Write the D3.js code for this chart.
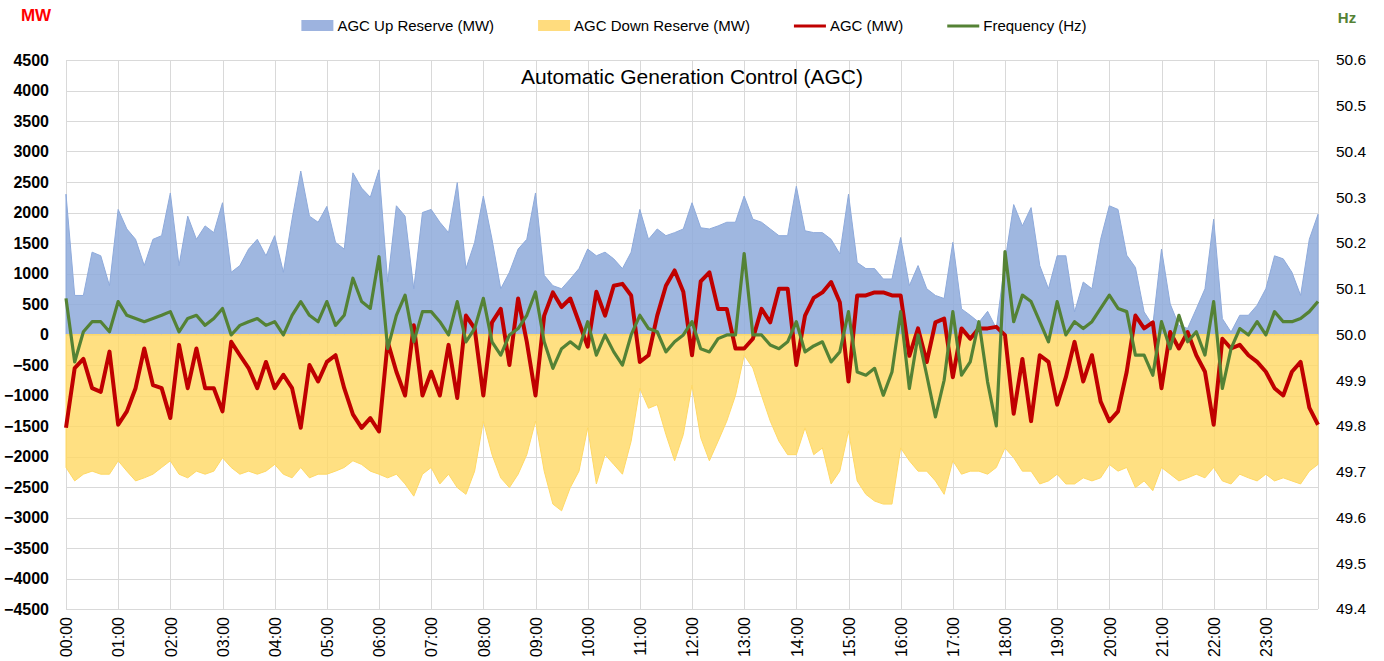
<!DOCTYPE html>
<html>
<head>
<meta charset="utf-8">
<script src="https://cdn.jsdelivr.net/npm/d3@7"></script>
<style>
  body { margin: 0; background: #fff; }
  text { font-family: "Liberation Sans", Arial, sans-serif; fill: #000; }
</style>
</head>
<body>
<div class="container"></div>
<script>
// readings every 10 minutes, 00:00 .. 24:00
var stepMin = 10;

var upReserve = [
  2300, 640, 640, 1350, 1290, 800,
  2050, 1730, 1560, 1130, 1560, 1620,
  2320, 1130, 1940, 1560, 1780, 1670,
  2160, 1020, 1130, 1400, 1560, 1290,
  1620, 1020, 1890, 2680, 1940, 1840,
  2100, 1510, 1400, 2650, 2400, 2250,
  2700, 860, 2110, 1940, 750, 2000,
  2050, 1840, 1670, 2490, 1080, 1510,
  2270, 1560, 750, 1020, 1400, 1560,
  2320, 970, 800, 750, 910, 1080,
  1400, 1290, 1350, 1240, 1080, 1350,
  2050, 1560, 1730, 1620, 1670, 1730,
  2160, 1750, 1730, 1780, 1840, 1840,
  2270, 1890, 1840, 1730, 1620, 1620,
  2430, 1700, 1670, 1670, 1560, 1320,
  2300, 1180, 1080, 1080, 910, 910,
  1590, 800, 1130, 750, 640, 590,
  1510, 420, 315, 200, 380, 100,
  1200, 2130, 1780, 2080, 1130, 750,
  1290, 1290, 370, 860, 750, 1560,
  2110, 2050, 1300, 1100, 370, 150,
  1400, 500, 150, 100, 420, 750,
  1890, 260, 40, 315, 315, 480,
  750, 1290, 1240, 1020, 640, 1560,
  1970
];

var downReserve = [
  -2180, -2400, -2290, -2240, -2290, -2290,
  -2070, -2240, -2400, -2350, -2290, -2180,
  -2070, -2290, -2350, -2240, -2290, -2240,
  -2020, -2180, -2290, -2240, -2290, -2240,
  -2130, -2290, -2350, -2180, -2350, -2290,
  -2290, -2240, -2180, -2070, -2130, -2240,
  -2290, -2350, -2290, -2450, -2650, -2290,
  -2180, -2450, -2290, -2510, -2620, -2240,
  -1420, -1970, -2350, -2510, -2290, -1970,
  -1420, -2240, -2780, -2890, -2510, -2240,
  -1530, -2450, -1970, -2130, -2290, -1750,
  -880, -1210, -1150, -1640, -2070, -1640,
  -830, -1690, -2070, -1750, -1420, -1000,
  -340, -550, -1000, -1420, -1750, -1970,
  -1970, -1530, -1970, -1860, -2450, -2240,
  -1580, -2400, -2620, -2730, -2780, -2780,
  -1860, -2070, -2240, -2240, -2400, -2620,
  -2070, -2290, -2240, -2240, -2290, -2180,
  -1860, -2020, -2240, -2240, -2450, -2400,
  -2290, -2450, -2450, -2350, -2400, -2350,
  -2130, -2240, -2180, -2510, -2400, -2560,
  -2180, -2290, -2400, -2350, -2290, -2350,
  -2180, -2400, -2450, -2290, -2350, -2400,
  -2290, -2400, -2350, -2400, -2450, -2240,
  -2130
];

var agc = [
  -1530, -550, -400, -880, -940, -280,
  -1480, -1260, -880, -230, -830, -880,
  -1370, -170, -880, -230, -880, -880,
  -1260, -120, -340, -550, -880, -450,
  -880, -660, -880, -1530, -500, -770,
  -450, -340, -880, -1310, -1530, -1370,
  -1590, -120, -610, -1000, 150, -1000,
  -610, -1000, -170, -1040, 310, 100,
  -1000, 200, 420, -500, 590, -120,
  -1000, 310, 690, 450, 590, 200,
  -200, 700, 310, 800, 830, 640,
  -450, -340, 310, 800, 1050, 700,
  -340, 870, 1020, 420, 420, -230,
  -230, -70, 420, 200, 750, 750,
  -500, 310, 600, 690, 860, 530,
  -770, 640, 640, 690, 690, 640,
  640, -350, 100, -450, 200, 260,
  -700, 100, -70, 100, 100, 125,
  -10, -1300, -400, -1420, -340, -450,
  -1150, -700, -120, -770, -340, -1100,
  -1420, -1260, -610, 310, 100, 200,
  -880, 40, -230, 40, -340, -610,
  -1480, -70, -230, -170, -340, -450,
  -610, -880, -1000, -610, -450, -1200,
  -1480
];

var freq = [
  50.079, 49.940, 50.006, 50.028, 50.028, 50.006,
  50.072, 50.042, 50.035, 50.028, 50.035, 50.042,
  50.050, 50.006, 50.035, 50.042, 50.020, 50.035,
  50.057, 49.999, 50.020, 50.028, 50.035, 50.020,
  50.028, 49.999, 50.042, 50.072, 50.042, 50.028,
  50.072, 50.020, 50.042, 50.123, 50.072, 50.057,
  50.170, 49.969, 50.042, 50.086, 49.984, 50.050,
  50.050, 50.028, 49.999, 50.072, 49.984, 50.013,
  50.079, 49.984, 49.955, 49.999, 50.013, 50.042,
  50.093, 49.984, 49.926, 49.969, 49.984, 49.969,
  50.028, 49.955, 49.999, 49.962, 49.933, 49.999,
  50.042, 50.013, 50.006, 49.962, 49.984, 49.999,
  50.028, 49.969, 49.962, 49.991, 49.999, 49.999,
  50.177, 49.999, 49.999, 49.977, 49.969, 49.984,
  50.028, 49.962, 49.975, 49.984, 49.940, 49.962,
  50.050, 49.918, 49.911, 49.926, 49.867, 49.918,
  50.050, 49.882, 49.999, 49.911, 49.820, 49.900,
  50.050, 49.911, 49.940, 50.028, 49.896, 49.800,
  50.181, 50.028, 50.086, 50.072, 50.028, 49.984,
  50.072, 49.999, 50.028, 50.013, 50.028, 50.057,
  50.086, 50.057, 50.050, 49.955, 49.955, 49.911,
  50.028, 49.969, 50.042, 49.984, 50.006, 49.955,
  50.072, 49.882, 49.969, 50.013, 49.999, 50.028,
  49.999, 50.050, 50.028, 50.028, 50.035, 50.050,
  50.072
];

var mwTicks = d3.range(-4500, 4501, 500);
var hzTicks = [49.4, 49.5, 49.6, 49.7, 49.8, 49.9, 50.0, 50.1, 50.2, 50.3, 50.4, 50.5, 50.6];
var hourLabels = ["00:00","01:00","02:00","03:00","04:00","05:00","06:00","07:00","08:00","09:00","10:00","11:00",
                  "12:00","13:00","14:00","15:00","16:00","17:00","18:00","19:00","20:00","21:00","22:00","23:00"];

var legendItems = [
  {name: "AGC Up Reserve (MW)", kind: "area", color: "#9db3df"},
  {name: "AGC Down Reserve (MW)", kind: "area", color: "#ffdc7e"},
  {name: "AGC (MW)", kind: "line", color: "#c00000"},
  {name: "Frequency (Hz)", kind: "line", color: "#548235"}
];

var width = 1384, height = 661;
var plot = {left: 66, right: 1318, top: 60, bottom: 609};

var svg = d3.select('.container').append('svg')
  .attr('width', width).attr('height', height);

var x = d3.scaleLinear().domain([0, 24 * 60]).range([plot.left, plot.right]);
var y = d3.scaleLinear().domain([-4500, 4500]).range([plot.bottom, plot.top]);
var yHz = d3.scaleLinear().domain([49.4, 50.6]).range([plot.bottom, plot.top]);

var t = function(i){ return i * stepMin; };

// gridlines
var grid = svg.append('g');
grid.selectAll('line.h').data(mwTicks).enter().append('line')
  .attr('x1', plot.left).attr('x2', plot.right)
  .attr('y1', function(d){ return Math.round(y(d)) + 0.5; })
  .attr('y2', function(d){ return Math.round(y(d)) + 0.5; })
  .attr('stroke', '#d9d9d9').attr('stroke-width', 1);
grid.selectAll('line.v').data(d3.range(0, 25)).enter().append('line')
  .attr('y1', plot.top).attr('y2', plot.bottom)
  .attr('x1', function(d){ return Math.round(x(d * 60)) + 0.5; })
  .attr('x2', function(d){ return Math.round(x(d * 60)) + 0.5; })
  .attr('stroke', '#d9d9d9').attr('stroke-width', 1);

// reserve areas
var reserveArea = d3.area()
  .x(function(d, i){ return x(t(i)); })
  .y0(y(0)).y1(function(d){ return y(d); });

svg.append('path').datum(upReserve)
  .attr('d', reserveArea)
  .attr('fill', '#8eaadb').attr('fill-opacity', 0.85)
  .attr('stroke', '#8eaadb').attr('stroke-width', 1);

svg.append('path').datum(downReserve)
  .attr('d', reserveArea)
  .attr('fill', '#ffd966').attr('fill-opacity', 0.82)
  .attr('stroke', '#ffd966').attr('stroke-width', 1);

// AGC line (MW)
var agcLine = d3.line()
  .x(function(d, i){ return x(t(i)); })
  .y(function(d){ return y(d); });
svg.append('path').datum(agc)
  .attr('d', agcLine)
  .attr('fill', 'none').attr('stroke', '#c00000')
  .attr('stroke-width', 4).attr('stroke-linejoin', 'round');

// frequency line (Hz, secondary axis)
var freqLine = d3.line()
  .x(function(d, i){ return x(t(i)); })
  .y(function(d){ return yHz(d); });
svg.append('path').datum(freq)
  .attr('d', freqLine)
  .attr('fill', 'none').attr('stroke', '#548235')
  .attr('stroke-width', 3.2).attr('stroke-linejoin', 'round');

// axes
var leftAxis = svg.append('g')
  .attr('transform', 'translate(' + (plot.left - 17) + ',0)')
  .call(d3.axisLeft(y).tickValues(mwTicks).tickSize(0).tickPadding(0).tickFormat(d3.format('d')));
leftAxis.select('.domain').remove();
leftAxis.selectAll('text')
  .style('font-family', '"Liberation Sans", Arial, sans-serif')
  .style('font-size', '16px').style('font-weight', 'bold').attr('fill', '#000');

var rightAxis = svg.append('g')
  .attr('transform', 'translate(' + (plot.right + 18) + ',0)')
  .call(d3.axisRight(yHz).tickValues(hzTicks).tickSize(0).tickPadding(0).tickFormat(d3.format('.1f')));
rightAxis.select('.domain').remove();
rightAxis.selectAll('text')
  .style('font-family', '"Liberation Sans", Arial, sans-serif')
  .style('font-size', '15.5px').attr('fill', '#000');

var bottomAxis = svg.append('g')
  .attr('transform', 'translate(0,' + plot.bottom + ')')
  .call(d3.axisBottom(x).tickValues(d3.range(0, 24).map(function(h){ return h * 60; }))
    .tickSize(0).tickFormat(function(d){ return hourLabels[d / 60]; }));
bottomAxis.select('.domain').remove();
bottomAxis.selectAll('text')
  .style('font-family', '"Liberation Sans", Arial, sans-serif')
  .style('font-size', '16px').attr('fill', '#000')
  .attr('transform', 'rotate(-90)')
  .attr('x', -8).attr('y', 0).attr('dy', '0.36em')
  .style('text-anchor', 'end');

// unit labels
svg.append('text').attr('x', 36).attr('y', 21).attr('text-anchor', 'middle')
  .style('font-size', '17px').style('font-weight', 'bold').style('fill', '#ff0000').text('MW');
svg.append('text').attr('x', 1347).attr('y', 23).attr('text-anchor', 'middle')
  .style('font-size', '15px').style('font-weight', 'bold').style('fill', '#548235').text('Hz');

// title
svg.append('text').attr('x', 692).attr('y', 84).attr('text-anchor', 'middle')
  .style('font-size', '21px').text('Automatic Generation Control (AGC)');

// legend
var legend = svg.append('g');
var lx = 0;
legendItems.forEach(function(item){
  var g = legend.append('g').attr('transform', 'translate(' + lx + ',0)');
  if (item.kind === 'area') {
    g.append('rect').attr('x', 0).attr('y', 20).attr('width', 32).attr('height', 11).attr('fill', item.color);
  } else {
    g.append('line').attr('x1', 0).attr('x2', 32).attr('y1', 26).attr('y2', 26)
      .attr('stroke', item.color).attr('stroke-width', 3);
  }
  var txt = g.append('text').attr('x', 36).attr('y', 31).style('font-size', '15px').text(item.name);
  lx += 36 + txt.node().getComputedTextLength() + 44;
});
var legendWidth = lx - 44;
legend.attr('transform', 'translate(' + (694 - legendWidth / 2) + ',0)');
</script>
</body>
</html>
